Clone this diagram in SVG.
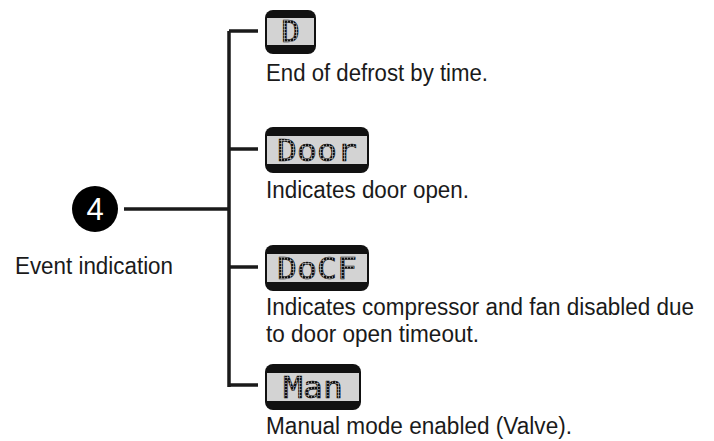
<svg xmlns="http://www.w3.org/2000/svg" width="714" height="441" viewBox="0 0 714 441">
<defs>
<pattern id="dots" width="3" height="3" patternUnits="userSpaceOnUse"><rect width="2.4" height="2.4" fill="#111"/></pattern>
</defs>
<style>
.t{font-family:"Liberation Sans Narrow","Liberation Sans",Arial,sans-serif;font-size:23.5px;fill:#1a1a1a}
.c{fill:none;stroke:#1a1a1a;stroke-width:3.5}
.lcd{fill:#111}
.scr{fill:#d3d3d3}
.d{font-family:"DejaVu Sans Mono","Liberation Mono",monospace;font-size:31px;fill:url(#dots);stroke:#111;stroke-width:0.6}
</style>
<rect width="714" height="441" fill="#fff"/>
<g id="connectors">
<path class="c" d="M229 31V387M229 31H258M229 149H258M229 267H258M229 385H258M124 209H229"/>
</g>
<g id="event">
<circle cx="95" cy="209" r="23" fill="#000"/>
<text x="95" y="220" text-anchor="middle" style="font-family:'Liberation Sans',Arial,sans-serif;font-size:31px;fill:#fff">4</text>
<text class="t" x="15" y="274" textLength="158" lengthAdjust="spacingAndGlyphs">Event indication</text>
</g>
<g id="node-d">
<rect class="lcd" x="265" y="10" width="51" height="44" rx="8"/>
<rect class="scr" x="267" y="18" width="47" height="27"/>
<text class="d" x="290.5" y="42" text-anchor="middle">D</text>
<text class="t" x="266" y="81" textLength="222" lengthAdjust="spacingAndGlyphs">End of defrost by time.</text>
</g>
<g id="node-door">
<rect class="lcd" x="265" y="127" width="104" height="46" rx="8"/>
<rect class="scr" x="267" y="136" width="100" height="28"/>
<text class="d" x="277" y="161" textLength="80" lengthAdjust="spacingAndGlyphs">Door</text>
<text class="t" x="266" y="198" textLength="203" lengthAdjust="spacingAndGlyphs">Indicates door open.</text>
</g>
<g id="node-docf">
<rect class="lcd" x="265" y="245" width="104" height="46" rx="8"/>
<rect class="scr" x="267" y="254" width="100" height="28"/>
<text class="d" x="277" y="279" textLength="80" lengthAdjust="spacingAndGlyphs">DoCF</text>
<text class="t" x="266" y="315" textLength="428" lengthAdjust="spacingAndGlyphs">Indicates compressor and fan disabled due</text>
<text class="t" x="266" y="342" textLength="213" lengthAdjust="spacingAndGlyphs">to door open timeout.</text>
</g>
<g id="node-man">
<rect class="lcd" x="265" y="364" width="96" height="46" rx="8"/>
<rect class="scr" x="267" y="373" width="92" height="28"/>
<text class="d" x="283" y="398" textLength="60" lengthAdjust="spacingAndGlyphs">Man</text>
<text class="t" x="266" y="434" textLength="306" lengthAdjust="spacingAndGlyphs">Manual mode enabled (Valve).</text>
</g>
</svg>
